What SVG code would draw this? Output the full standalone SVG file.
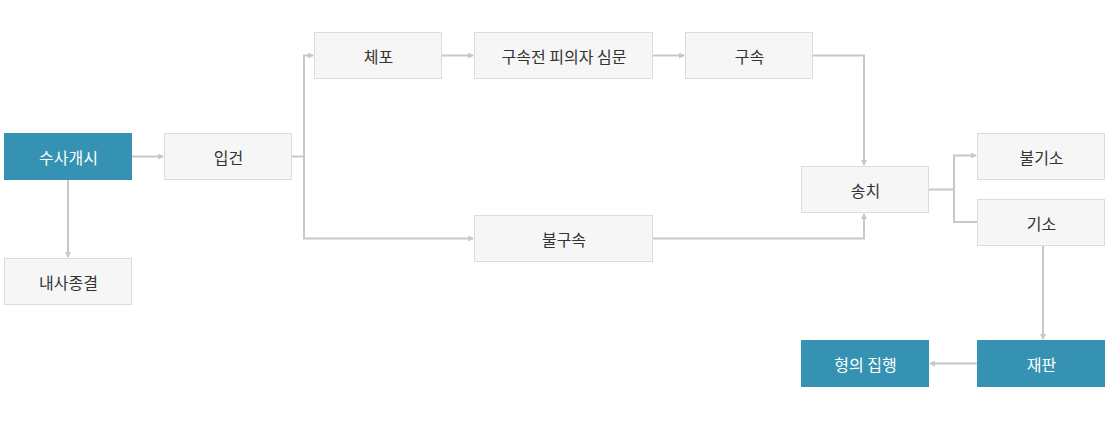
<svg xmlns="http://www.w3.org/2000/svg" width="1110" height="425" viewBox="0 0 1110 425">
<style>
.box{fill:#f6f6f6;stroke:#dcdcdc;stroke-width:1}
.hl{fill:#3592b2}
.t{font-family:"Noto Sans CJK KR","Noto Sans",sans-serif;font-size:16px;fill:#333;text-anchor:middle;dominant-baseline:central}
.tw{fill:#fff}
.c{fill:none;stroke:#c8c8c8;stroke-width:2}
</style>
<defs>
<marker id="ah" markerWidth="6" markerHeight="6" refX="5" refY="3" orient="auto" markerUnits="userSpaceOnUse">
<path d="M0,0 L6,3 L0,6 Z" fill="#c8c8c8"/>
</marker>
</defs>
<rect width="1110" height="425" fill="#fff"/>
<g id="connectors">
<path class="c" d="M132,156.5 H163" marker-end="url(#ah)"/>
<path class="c" d="M68,180 V257" marker-end="url(#ah)"/>
<path class="c" d="M292,156.5 H304 V55.5 H313" marker-end="url(#ah)"/>
<path class="c" d="M304,156.5 V238.5 H473" marker-end="url(#ah)"/>
<path class="c" d="M442,55.5 H473" marker-end="url(#ah)"/>
<path class="c" d="M653,55.5 H684" marker-end="url(#ah)"/>
<path class="c" d="M813,55.5 H864 V165" marker-end="url(#ah)"/>
<path class="c" d="M653,238.5 H864 V214" marker-end="url(#ah)"/>
<path class="c" d="M929,189.5 H954 V155.5 H976" marker-end="url(#ah)"/>
<path class="c" d="M954,189.5 V222 H977"/>
<path class="c" d="M1043,246 V339" marker-end="url(#ah)"/>
<path class="c" d="M977,363.5 H930" marker-end="url(#ah)"/>
</g>
<g id="n1"><rect class="hl" x="4" y="133" width="128" height="47"/><text class="t tw" x="68.5" y="156.5">수사개시</text></g>
<g id="n2"><rect class="box" x="164.5" y="133.5" width="127" height="46"/><text class="t" x="228.5" y="156.5">입건</text></g>
<g id="n3"><rect class="box" x="4.5" y="258.5" width="127" height="46"/><text class="t" x="68.5" y="281.5">내사종결</text></g>
<g id="n4"><rect class="box" x="314.5" y="32.5" width="127" height="46"/><text class="t" x="378.5" y="55.5">체포</text></g>
<g id="n5"><rect class="box" x="474.5" y="32.5" width="178" height="46"/><text class="t" x="564" y="55.5">구속전 피의자 심문</text></g>
<g id="n6"><rect class="box" x="685.5" y="32.5" width="127" height="46"/><text class="t" x="749.5" y="55.5">구속</text></g>
<g id="n7"><rect class="box" x="474.5" y="215.5" width="178" height="46"/><text class="t" x="564" y="238.5">불구속</text></g>
<g id="n8"><rect class="box" x="801.5" y="166.5" width="127" height="46"/><text class="t" x="865.5" y="189.5">송치</text></g>
<g id="n9"><rect class="box" x="977.5" y="133.5" width="127" height="46"/><text class="t" x="1041.5" y="156.5">불기소</text></g>
<g id="n10"><rect class="box" x="977.5" y="199.5" width="127" height="46"/><text class="t" x="1041.5" y="222.5">기소</text></g>
<g id="n11"><rect class="hl" x="977" y="340" width="128" height="47"/><text class="t tw" x="1041.5" y="363.5">재판</text></g>
<g id="n12"><rect class="hl" x="801" y="340" width="128" height="47"/><text class="t tw" x="865.5" y="363.5">형의 집행</text></g>
</svg>
